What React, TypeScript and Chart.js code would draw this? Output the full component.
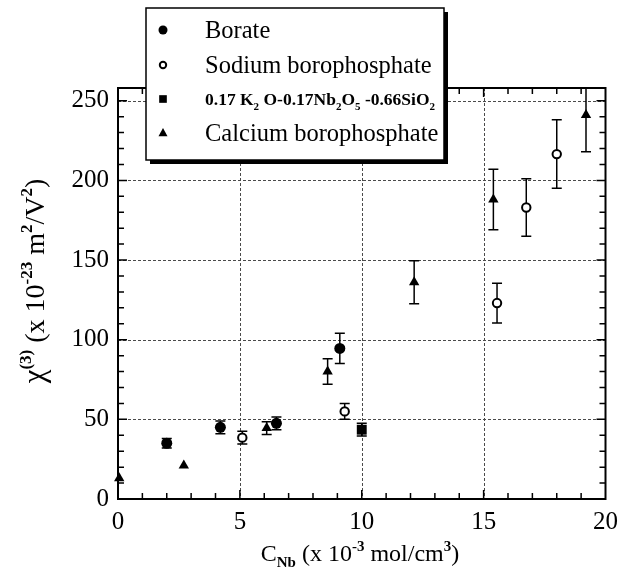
import React, { useEffect, useRef } from 'react';
import { Chart, registerables } from 'chart.js';
Chart.register(...registerables);

// ---- data ----
const borateX = [2.0, 4.2, 6.5, 9.1];
const borateY = [35, 45, 47.5, 94.5];
const borateErr = [3, 4, 4, 9.5];

const sodiumX = [5.1, 9.3, 15.55, 16.75, 18.0];
const sodiumY = [38.5, 55, 123, 183, 216.5];
const sodiumErr = [4, 5, 12.5, 18, 21.5];

const kNbX = [10.0];
const kNbY = [43.5];
const kNbErr = [4];

const calciumX = [0.05, 2.7, 6.1, 8.6, 12.15, 15.4, 19.2];
const calciumY = [13, 21, 44.5, 80, 136, 188, 241];
const calciumErr = [0, 0, 4, 8, 13.5, 19, 23];

const xTickLabels = [0, 5, 10, 15, 20];
const yTickLabels = [0, 50, 100, 150, 200, 250];

const seriesNames = ['Borate', 'Sodium borophosphate', 'K2O-Nb2O5-SiO2', 'Calcium borophosphate'];

const SERIF = '"Liberation Serif", "Times New Roman", serif';

type Part = { t: string; size: number; dy?: number; bold?: boolean };

function richWidth(ctx: CanvasRenderingContext2D, parts: Part[]) {
  let w = 0;
  for (const p of parts) {
    ctx.font = `${p.bold ? 'bold ' : ''}${p.size}px ${SERIF}`;
    w += ctx.measureText(p.t).width;
  }
  return w;
}

function drawRich(ctx: CanvasRenderingContext2D, parts: Part[], x: number, y: number, align: 'left' | 'center') {
  const w = richWidth(ctx, parts);
  let cx = align === 'center' ? x - w / 2 : x;
  ctx.textAlign = 'left';
  ctx.textBaseline = 'alphabetic';
  for (const p of parts) {
    ctx.font = `${p.bold ? 'bold ' : ''}${p.size}px ${SERIF}`;
    ctx.fillText(p.t, cx, y + (p.dy || 0));
    cx += ctx.measureText(p.t).width;
  }
}

function drawMarker(ctx: CanvasRenderingContext2D, kind: number, x: number, y: number, s: number) {
  ctx.save();
  ctx.fillStyle = '#000';
  ctx.strokeStyle = '#000';
  if (kind === 0) {
    ctx.beginPath();
    ctx.arc(x, y, s, 0, Math.PI * 2);
    ctx.fill();
  } else if (kind === 1) {
    ctx.lineWidth = 2;
    ctx.fillStyle = '#fff';
    ctx.beginPath();
    ctx.arc(x, y, s * 0.8, 0, Math.PI * 2);
    ctx.fill();
    ctx.stroke();
  } else if (kind === 2) {
    ctx.fillRect(x - s * 0.85, y - s * 0.85, s * 1.7, s * 1.7);
  } else {
    ctx.beginPath();
    ctx.moveTo(x, y - s * 1.1);
    ctx.lineTo(x + s, y + s * 0.7);
    ctx.lineTo(x - s, y + s * 0.7);
    ctx.closePath();
    ctx.fill();
  }
  ctx.restore();
}

const errorsBySeries = [borateErr, sodiumErr, kNbErr, calciumErr];

const decorPlugin = {
  id: 'decor',
  beforeDatasetsDraw(chart: any) {
    const { ctx, chartArea: a, scales } = chart;
    const xs = scales.x, ys = scales.y;
    ctx.save();
    // grid lines
    ctx.strokeStyle = '#4a4a4a';
    ctx.lineWidth = 1;
    ctx.setLineDash([3, 2]);
    for (const v of xTickLabels) {
      if (v === 0 || v === 20) continue;
      const px = Math.round(xs.getPixelForValue(v)) + 0.5;
      ctx.beginPath(); ctx.moveTo(px, a.top); ctx.lineTo(px, a.bottom); ctx.stroke();
    }
    for (const v of yTickLabels) {
      if (v === 0) continue;
      const py = Math.round(ys.getPixelForValue(v)) + 0.5;
      ctx.beginPath(); ctx.moveTo(a.left, py); ctx.lineTo(a.right, py); ctx.stroke();
    }
    ctx.setLineDash([]);
    // error bars
    ctx.beginPath();
    ctx.rect(a.left, a.top, a.right - a.left, a.bottom - a.top);
    ctx.clip();
    ctx.strokeStyle = '#000';
    ctx.lineWidth = 1.5;
    chart.data.datasets.forEach((ds: any, di: number) => {
      const errs = errorsBySeries[di];
      ds.data.forEach((pt: any, i: number) => {
        const e = errs[i];
        if (!e) return;
        const px = xs.getPixelForValue(pt.x);
        const y1 = ys.getPixelForValue(pt.y + e);
        const y2 = ys.getPixelForValue(pt.y - e);
        ctx.beginPath();
        ctx.moveTo(px, y1); ctx.lineTo(px, y2);
        ctx.moveTo(px - 5, y1); ctx.lineTo(px + 5, y1);
        ctx.moveTo(px - 5, y2); ctx.lineTo(px + 5, y2);
        ctx.stroke();
      });
    });
    ctx.restore();
  },
  afterDraw(chart: any) {
    const { ctx, chartArea: a, scales } = chart;
    const xs = scales.x, ys = scales.y;
    ctx.save();
    // frame
    ctx.strokeStyle = '#000';
    ctx.lineWidth = 2;
    ctx.strokeRect(a.left, a.top, a.right - a.left, a.bottom - a.top);
    // inward minor ticks
    ctx.lineWidth = 1.5;
    ctx.beginPath();
    for (let v = 1; v < 20; v++) {
      const px = xs.getPixelForValue(v);
      const len = v % 5 === 0 ? 9 : 6;
      ctx.moveTo(px, a.bottom); ctx.lineTo(px, a.bottom - len);
      ctx.moveTo(px, a.top); ctx.lineTo(px, a.top + len);
    }
    for (let v = 10; v < 258; v += 10) {
      const py = ys.getPixelForValue(v);
      const len = v % 50 === 0 ? 9 : 6;
      ctx.moveTo(a.left, py); ctx.lineTo(a.left + len, py);
      ctx.moveTo(a.right, py); ctx.lineTo(a.right - len, py);
    }
    ctx.stroke();

    // axis titles
    ctx.fillStyle = '#000';
    drawRich(ctx, [
      { t: 'C', size: 24 },
      { t: 'Nb', size: 15, dy: 6, bold: true },
      { t: ' (x 10', size: 24 },
      { t: '-3', size: 15, dy: -10, bold: true },
      { t: ' mol/cm', size: 24 },
      { t: '3', size: 15, dy: -10, bold: true },
      { t: ')', size: 24 },
    ], 360, 561, 'center');

    ctx.save();
    ctx.translate(44, 281);
    ctx.rotate(-Math.PI / 2);
    drawRich(ctx, [
      { t: 'χ', size: 31 },
      { t: '(3)', size: 17, dy: -13, bold: true },
      { t: ' (x 10', size: 28 },
      { t: '-23', size: 17, dy: -12, bold: true },
      { t: ' m', size: 28 },
      { t: '2', size: 17, dy: -12, bold: true },
      { t: '/V', size: 28 },
      { t: '2', size: 17, dy: -12, bold: true },
      { t: ')', size: 28 },
    ], 0, 0, 'center');
    ctx.restore();

    // legend box
    const lx = 146, ly = 8, lw = 298, lh = 152;
    ctx.fillStyle = '#000';
    ctx.fillRect(lx + 4, ly + 4, lw, lh);
    ctx.fillStyle = '#fff';
    ctx.fillRect(lx, ly, lw, lh);
    ctx.strokeStyle = '#000';
    ctx.lineWidth = 1.5;
    ctx.strokeRect(lx, ly, lw, lh);

    const rows = [30, 65, 99, 133];
    drawMarker(ctx, 0, 163, rows[0], 4.5);
    drawMarker(ctx, 1, 163, rows[1], 4);
    drawMarker(ctx, 2, 163, rows[2], 4.5);
    drawMarker(ctx, 3, 163, rows[3], 4.5);
    ctx.fillStyle = '#000';
    drawRich(ctx, [{ t: seriesNames[0], size: 24.5 }], 205, rows[0] + 8, 'left');
    drawRich(ctx, [{ t: seriesNames[1], size: 24.5 }], 205, rows[1] + 8, 'left');
    drawRich(ctx, [
      { t: '0.17 K', size: 17.5, bold: true },
      { t: '2', size: 11, dy: 5, bold: true },
      { t: ' O-0.17Nb', size: 17.5, bold: true },
      { t: '2', size: 11, dy: 5, bold: true },
      { t: 'O', size: 17.5, bold: true },
      { t: '5', size: 11, dy: 5, bold: true },
      { t: ' -0.66SiO', size: 17.5, bold: true },
      { t: '2', size: 11, dy: 5, bold: true },
    ], 205, rows[2] + 6, 'left');
    drawRich(ctx, [{ t: seriesNames[3], size: 24.5 }], 205, rows[3] + 8, 'left');
    ctx.restore();
  },
};

function pts(xs: number[], ys: number[]) {
  return xs.map((x, i) => ({ x, y: ys[i] }));
}

export default function App() {
  const ref = useRef<HTMLCanvasElement | null>(null);
  useEffect(() => {
    document.body.style.margin = '0';
    const canvas = ref.current!;
    const chart = new Chart(canvas, {
      type: 'scatter',
      data: {
        datasets: [
          { label: seriesNames[0], data: pts(borateX, borateY), pointStyle: 'circle', pointRadius: 5.5, backgroundColor: '#000', borderColor: '#000', borderWidth: 0, clip: false },
          { label: seriesNames[1], data: pts(sodiumX, sodiumY), pointStyle: 'circle', pointRadius: 4.2, backgroundColor: '#fff', borderColor: '#000', borderWidth: 2, clip: false },
          { label: seriesNames[2], data: pts(kNbX, kNbY), pointStyle: 'rect', pointRadius: 7, backgroundColor: '#000', borderColor: '#000', borderWidth: 0, clip: false },
          { label: seriesNames[3], data: pts(calciumX, calciumY), pointStyle: 'triangle', pointRadius: 6, backgroundColor: '#000', borderColor: '#000', borderWidth: 0, clip: false },
        ] as any,
      },
      options: {
        animation: false,
        responsive: false,
        maintainAspectRatio: false,
        layout: { padding: { top: 88, right: 17, left: 0, bottom: 0 } },
        plugins: { legend: { display: false }, tooltip: { enabled: false } },
        scales: {
          x: {
            type: 'linear', min: 0, max: 20,
            grid: { display: false, drawTicks: false },
            border: { display: false },
            ticks: { stepSize: 5, color: '#000', padding: 8, font: { family: SERIF, size: 25 }, maxRotation: 0 },
            afterFit: (s: any) => { s.height = 80; },
          },
          y: {
            type: 'linear', min: 0, max: 258,
            grid: { display: false, drawTicks: false },
            border: { display: false },
            ticks: { stepSize: 50, color: '#000', padding: 9, font: { family: SERIF, size: 25 } },
            afterBuildTicks: (s: any) => { s.ticks = yTickLabels.map((v) => ({ value: v })); },
            afterFit: (s: any) => { s.width = 118; },
          },
        },
      } as any,
      plugins: [decorPlugin],
    });
    return () => chart.destroy();
  }, []);
  return <canvas ref={ref} width={626} height={579} style={{ display: 'block' }} />;
}
